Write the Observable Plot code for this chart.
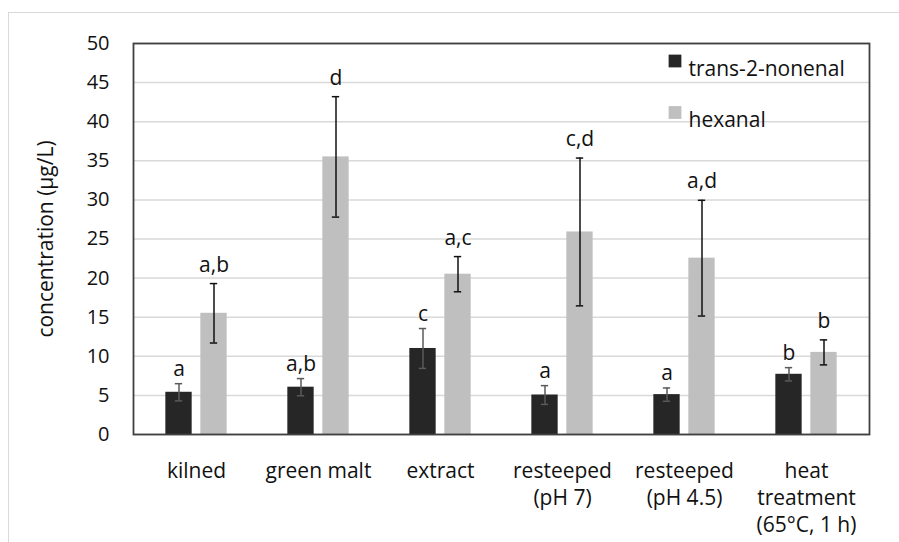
<!DOCTYPE html>
<html>
<head>
<meta charset="utf-8">
<script src="https://cdn.jsdelivr.net/npm/d3@7"></script>
<script src="https://cdn.jsdelivr.net/npm/@observablehq/plot@0.6"></script>
<style>
  html, body { margin: 0; padding: 0; background: #fff; }
  #wrap { position: relative; width: 899px; height: 542px; overflow: hidden; }
  #border { position: absolute; left: 8px; top: 12px; width: 1000px; height: 1000px;
            border-top: 1.5px solid #d9d9d9; border-left: 1.5px solid #d9d9d9; }
  #chart { position: absolute; left: 0; top: 0; }
</style>
</head>
<body>
<div id="wrap"><div id="border"></div><div id="chart"></div></div>
<script>
const categories = ["kilned", "green malt", "extract", "resteeped (pH 7)", "resteeped (pH 4.5)", "heat treatment (65°C, 1 h)"];
const tickLabels = ["kilned", "green malt", "extract", "resteeped\n(pH 7)", "resteeped\n(pH 4.5)", "heat\ntreatment\n(65°C, 1 h)"];
const seriesNames = ["trans-2-nonenal", "hexanal"];
const nonenal = [5.4, 6.05, 11.0, 5.05, 5.1, 7.7];
const nonenalErr = [1.1, 1.1, 2.55, 1.2, 0.85, 0.85];
const hexanal = [15.5, 35.5, 20.5, 25.9, 22.55, 10.5];
const hexanalErr = [3.8, 7.7, 2.25, 9.45, 7.4, 1.6];
const nonenalLetters = ["a", "a,b", "c", "a", "a", "b"];
const hexanalLetters = ["a,b", "d", "a,c", "c,d", "a,d", "b"];
const yTicks = [0, 5, 10, 15, 20, 25, 30, 35, 40, 45, 50];

const W = 899, H = 542, ML = 133, MR = 30, MT = 43, MB = 108;
const bw = (W - ML - MR) / categories.length;
const half = bw / 2;
const barW = 27, gap = 8;
const off = gap / 2 + barW / 2; // center offset of each bar from group center
const darkColor = "#262626", lightColor = "#bfbfbf";
const font = "'Open Sans', Lato, sans-serif";
const fs = 21;

const rows = [];
categories.forEach((c, i) => {
  rows.push({cat: c, series: seriesNames[0], v: nonenal[i], e: nonenalErr[i], lab: nonenalLetters[i]});
  rows.push({cat: c, series: seriesNames[1], v: hexanal[i], e: hexanalErr[i], lab: hexanalLetters[i]});
});
const dark = rows.filter(d => d.series === seriesNames[0]);
const light = rows.filter(d => d.series === seriesNames[1]);
const labelMap = new Map(categories.map((c, i) => [c, tickLabels[i]]));

const capHalf = 4;
function seriesMarks(data, dir, fill, errColor, labDy) {
  return [
    Plot.barY(data, {x: "cat", y: "v", fill,
      insetLeft: dir < 0 ? half - off - barW / 2 : half + gap / 2,
      insetRight: dir < 0 ? half + gap / 2 : half - off - barW / 2}),
    Plot.ruleX(data, {x: "cat", y1: d => d.v - d.e, y2: d => d.v + d.e, dx: dir * off, stroke: errColor, strokeWidth: 1.5}),
    Plot.tickY(data, {x: "cat", y: d => d.v + d.e, dx: dir * off, insetLeft: half - capHalf, insetRight: half - capHalf, stroke: errColor, strokeWidth: 1.5}),
    Plot.tickY(data, {x: "cat", y: d => d.v - d.e, dx: dir * off, insetLeft: half - capHalf, insetRight: half - capHalf, stroke: errColor, strokeWidth: 1.5}),
    Plot.text(data, {x: "cat", y: d => d.v + d.e, text: "lab", dx: dir * off, dy: labDy, lineAnchor: "bottom", textAnchor: "middle", fontSize: fs, fill: "#111"})
  ];
}

const chart = Plot.plot({
  width: W, height: H,
  marginLeft: ML, marginRight: MR, marginTop: MT, marginBottom: MB,
  style: {fontFamily: font, background: "transparent", color: "#111"},
  x: {domain: categories, padding: 0, label: null},
  y: {domain: [0, 50], label: null},
  marks: [
    Plot.gridY(yTicks, {stroke: "#d9d9d9", strokeOpacity: 1, strokeWidth: 1.5}),
    ...seriesMarks(dark, -1, darkColor, "#5a5a5a", -8),
    ...seriesMarks(light, 1, lightColor, "#111", -12),
    Plot.frame({stroke: "#404040", strokeWidth: 1.8}),
    Plot.axisY({ticks: yTicks, tickSize: 0, tickPadding: 24, fontSize: 20, label: null}),
    Plot.axisX({tickSize: 0, tickPadding: 24, fontSize: fs, lineHeight: 1.3, label: null, lineAnchor: "top", tickFormat: d => labelMap.get(d)}),
    Plot.text(["concentration (µg/L)"], {frameAnchor: "left", textAnchor: "middle", rotate: -90, dx: -87, fontSize: fs, fill: "#111"}),
    Plot.dot([seriesNames[0]], {frameAnchor: "top-right", dx: -194.5, dy: 17.5, symbol: "square", r: 7.2, fill: darkColor}),
    Plot.text([seriesNames[0]], {frameAnchor: "top-right", dx: -181, dy: 17.5, textAnchor: "start", fontSize: fs, fill: "#111"}),
    Plot.dot([seriesNames[1]], {frameAnchor: "top-right", dx: -194.5, dy: 69, symbol: "square", r: 7.2, fill: lightColor}),
    Plot.text([seriesNames[1]], {frameAnchor: "top-right", dx: -181, dy: 69, textAnchor: "start", fontSize: fs, fill: "#111"})
  ]
});
document.getElementById("chart").appendChild(chart);
</script>
</body>
</html>
